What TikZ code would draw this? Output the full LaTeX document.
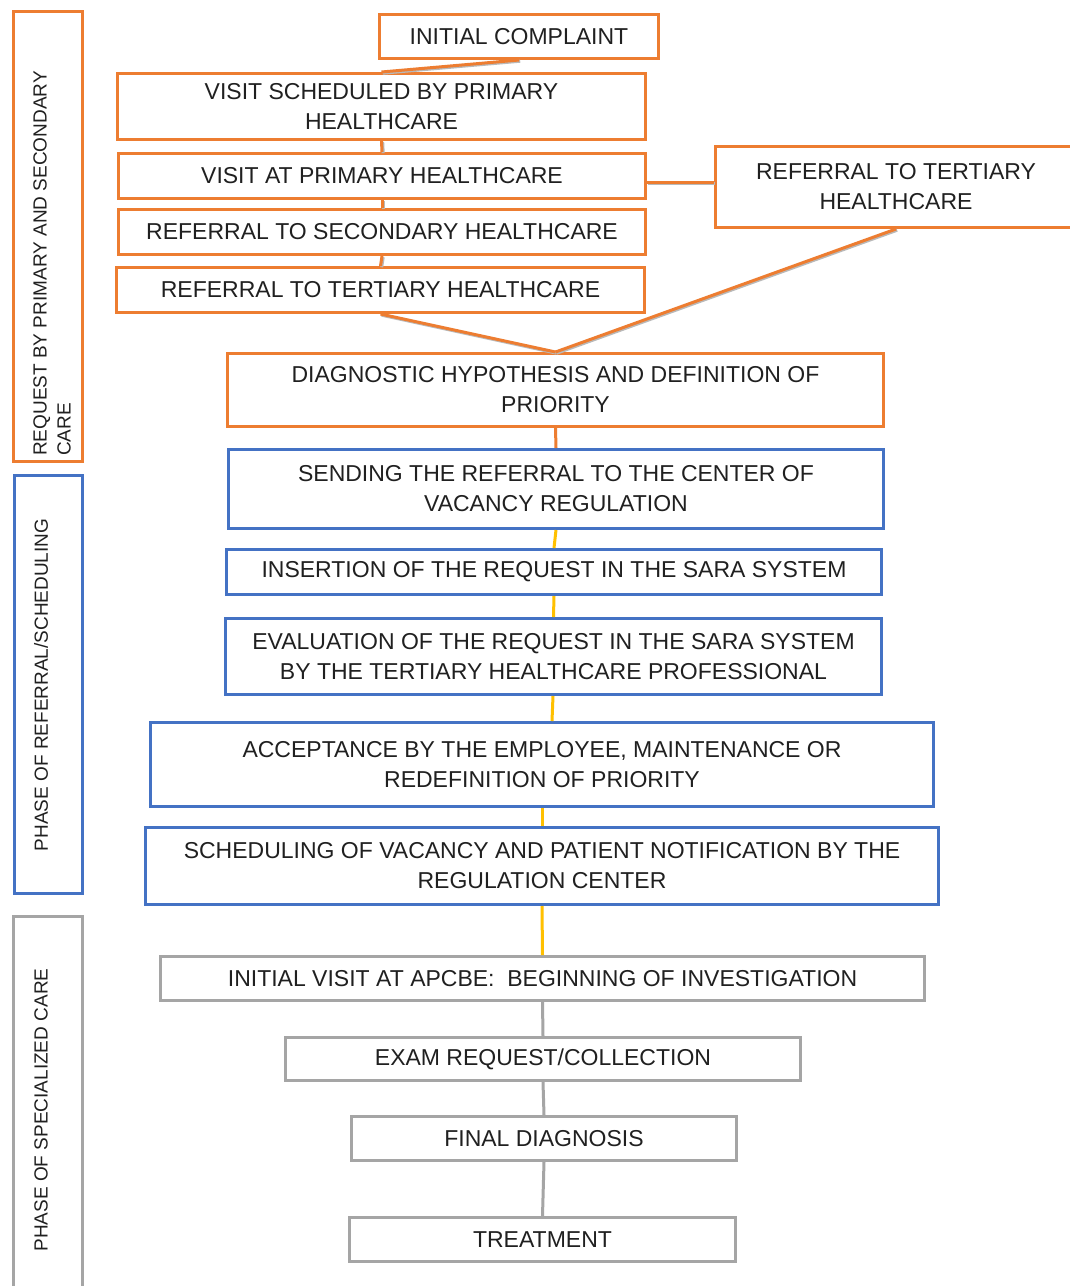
\documentclass[tikz,border=0pt]{standalone}
\usepackage{fontspec}
\setmainfont{Liberation Sans}
\definecolor{ora}{HTML}{ED7D31}
\definecolor{blu}{HTML}{4472C4}
\definecolor{gry}{HTML}{A5A5A5}
\definecolor{yel}{HTML}{FFC000}
\definecolor{txt}{HTML}{202020}
\begin{document}
\begin{tikzpicture}[x=1pt,y=-1pt,
 box/.style={draw, rectangle, line width=3pt, inner sep=0pt, align=center, text=txt, font=\fontsize{23}{30}\selectfont},
 obox/.style={box, draw=ora},
 bbox/.style={box, draw=blu},
 gbox/.style={box, draw=gry},
 side/.style={draw, rectangle, line width=3pt, inner sep=0pt},
 lab/.style={rotate=90, inner sep=0pt, text=txt, align=left, font=\fontsize{19}{24}\selectfont},
 oline/.style={draw=ora, line width=3pt, preaction={draw=gray!55, line width=3pt, transform canvas={shift={(1.2pt,-1.2pt)}}}},
 yline/.style={draw=yel, line width=3pt},
 gline/.style={draw=gry, line width=3pt},
]
\useasboundingbox (0,0) rectangle (1070,1286);
\fill[white] (0,0) rectangle (1070,1286);

% side bars
\node[side, draw=ora, minimum width=69, minimum height=450] (s1) at (48,236.5) {};
\node[side, draw=blu, minimum width=68, minimum height=418] (s2) at (48.5,684.5) {};
\node[side, draw=gry, minimum width=69, minimum height=384] (s3) at (48,1108.5) {};
\node[lab, anchor=west] (l1) at (52,456) {REQUEST BY PRIMARY AND SECONDARY\\CARE};
\node[lab] (l2) at (41,685) {PHASE OF REFERRAL/SCHEDULING};
\node[lab] (l3) at (41,1110) {PHASE OF SPECIALIZED CARE};

% main boxes
\node[obox, minimum width=279, minimum height=44] (ic) at (519,36.5) {INITIAL COMPLAINT};
\node[obox, minimum width=528, minimum height=66] (vsp) at (381.5,106.5) {VISIT SCHEDULED BY PRIMARY\\HEALTHCARE};
\node[obox, minimum width=527, minimum height=45] (vap) at (382,176) {VISIT AT PRIMARY HEALTHCARE};
\node[obox, minimum width=527, minimum height=45] (rsh) at (382,232) {REFERRAL TO SECONDARY HEALTHCARE};
\node[obox, minimum width=528, minimum height=45] (rth) at (380.5,290) {REFERRAL TO TERTIARY HEALTHCARE};
\node[obox, minimum width=361, minimum height=81] (rt2) at (896,187) {REFERRAL TO TERTIARY\\HEALTHCARE};
\node[obox, minimum width=656, minimum height=73] (diag) at (555.5,390) {DIAGNOSTIC HYPOTHESIS AND DEFINITION OF\\PRIORITY};
\node[bbox, minimum width=655, minimum height=79] (send) at (556,489) {SENDING THE REFERRAL TO THE CENTER OF\\VACANCY REGULATION};
\node[bbox, minimum width=655, minimum height=45] (ins) at (554,572) {INSERTION OF THE REQUEST IN THE SARA SYSTEM};
\node[bbox, minimum width=656, minimum height=76] (eval) at (553.5,656.5) {EVALUATION OF THE REQUEST IN THE SARA SYSTEM\\BY THE TERTIARY HEALTHCARE PROFESSIONAL};
\node[bbox, minimum width=783, minimum height=84] (acc) at (542,764.5) {ACCEPTANCE BY THE EMPLOYEE, MAINTENANCE OR\\REDEFINITION OF PRIORITY};
\node[bbox, minimum width=793, minimum height=77] (sch) at (542,866) {SCHEDULING OF VACANCY AND PATIENT NOTIFICATION BY THE\\REGULATION CENTER};
\node[gbox, minimum width=764, minimum height=44] (iv) at (542.5,978.5) {INITIAL VISIT AT APCBE:\ \ BEGINNING OF INVESTIGATION};
\node[gbox, minimum width=515, minimum height=43] (exam) at (543,1059) {EXAM REQUEST/COLLECTION};
\node[gbox, minimum width=385, minimum height=44] (fd) at (544,1138.5) {FINAL DIAGNOSIS};
\node[gbox, minimum width=386, minimum height=44] (tr) at (542.5,1239.5) {TREATMENT};

% connectors
\draw[oline] (ic.south) -- (vsp.north);
\draw[oline] (vsp.south) -- (vap.north);
\draw[oline] (vap.south) -- (rsh.north);
\draw[oline] (rsh.south) -- (rth.north);
\draw[oline] ([yshift=-6pt]vap.east) -- ([yshift=-6pt]vap.east -| rt2.west);
\draw[oline] (rth.south) -- (diag.north);
\draw[oline] (rt2.south) -- (diag.north);
\draw[draw=ora, line width=3pt] (diag.south) -- (send.north);
\draw[yline] (send.south) -- (ins.north);
\draw[yline] (ins.south) -- (eval.north);
\draw[yline] ([xshift=-0.5pt]eval.south) -- ([xshift=-1.5pt]eval.south |- acc.north);
\draw[yline] (acc.south) -- (sch.north);
\draw[yline] (sch.south) -- (iv.north);
\draw[gline] (iv.south) -- (exam.north);
\draw[gline] (exam.south) -- (fd.north);
\draw[gline] (fd.south) -- (tr.north);
\end{tikzpicture}
\end{document}
